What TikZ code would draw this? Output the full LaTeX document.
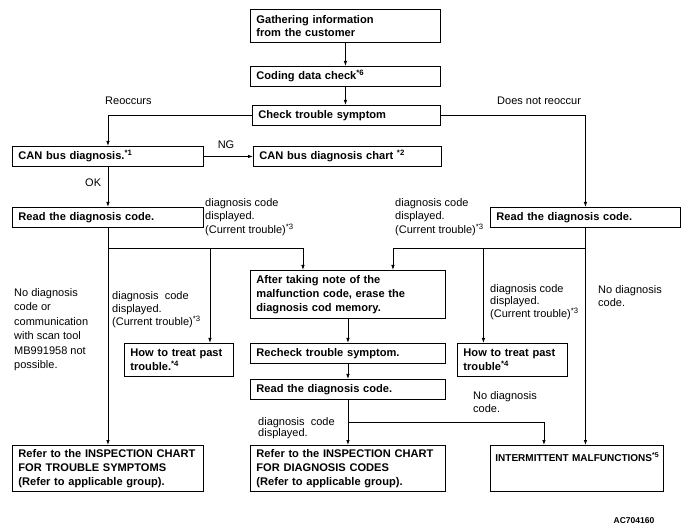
\documentclass[tikz,border=0pt]{standalone}
\usepackage{fontspec}
\setmainfont{Liberation Sans}
\usetikzlibrary{arrows.meta}

\begin{document}
\begin{tikzpicture}[
    x=1pt, y=-1pt,
    box/.style={rectangle, draw, line width=0.9pt, anchor=north west, align=left, inner xsep=6pt, inner ysep=3pt, minimum height=20pt, font=\fontsize{11.1}{13.8}\selectfont\bfseries},
    note/.style={anchor=north west, align=left, inner sep=0pt, font=\fontsize{11}{13.5}\selectfont},
    arrow/.style={-{Latex[length=5pt, width=3.5pt]}, line width=0.8pt},
]
\useasboundingbox (0,0) rectangle (688,526);

% Customer and symptom
\node[box, text width=178pt, minimum height=33pt] (gather) at (250,9) {Gathering information\\from the customer};
\node[box, text width=178pt] (coding) at (250,66) {Coding data check\textsuperscript{*6}};
\node[box, text width=176pt] (check) at (252,105) {Check trouble symptom};
\draw[arrow] (gather) -- (coding);
\draw[arrow] (coding.south) -- (coding.south |- check.north);

% CAN bus
\node[box, text width=179pt] (can) at (12,146) {CAN bus diagnosis.\textsuperscript{*1}};
\node[box, text width=176pt] (canchart) at (253,146) {CAN bus diagnosis chart \textsuperscript{*2}};
\draw[arrow] (check.west) -| (can.north);
\draw[arrow] (can) -- (canchart);
\node[note] at (105,97) {Reoccurs};
\node[note] at (497,97) {Does not reoccur};
\node[note, anchor=center] at (226,145) {NG};
\node[note] at (85,179) {OK};

% Read codes
\node[box, text width=179pt] (readL) at (12,207) {Read the diagnosis code.};
\node[box, text width=178pt] (readR) at (490,207) {Read the diagnosis code.};
\draw[arrow] (can) -- (readL);
\draw[arrow] (check.east) -| (readR.north);
\node[note] at (205,198) {diagnosis code\\displayed.\\(Current trouble)\textsuperscript{*3}};
\node[note] at (395,198) {diagnosis code\\displayed.\\(Current trouble)\textsuperscript{*3}};

% Middle row
\coordinate (rowA) at (0,248);
\coordinate (rowB) at (0,422);
\node[box, text width=183pt, minimum height=48pt] (after) at (250,270) {After taking note of the\\malfunction code, erase the\\diagnosis cod memory.};
\node[box, text width=183pt] (recheck) at (250,343) {Recheck trouble symptom.};
\node[box, text width=183pt] (readM) at (250,379) {Read the diagnosis code.};
\node[box, text width=97pt, minimum height=33pt] (howL) at (124,343) {How to treat past\\trouble.\textsuperscript{*4}};
\node[box, text width=98pt, minimum height=33pt] (howR) at (457,343) {How to treat past\\trouble\textsuperscript{*4}};
\coordinate (howLin) at ([xshift=31pt]howL.north);
\coordinate (howRin) at ([xshift=-29pt]howR.north);
\coordinate (afterL) at ([xshift=-45pt]after.north);
\coordinate (afterR) at ([xshift=45pt]after.north);
\draw[arrow] (readL.south |- rowA) -| (afterL);
\draw[arrow] (readR.south |- rowA) -| (afterR);
\draw[arrow] (howLin |- rowA) -- (howLin);
\draw[arrow] (howRin |- rowA) -- (howRin);
\draw[arrow] (after) -- (recheck);
\draw[arrow] (recheck) -- (readM);
\node[note, font=\fontsize{11}{14.5}\selectfont] at (14,288) {No diagnosis\\code or\\communication\\with scan tool\\MB991958 not\\possible.};
\node[note, font=\fontsize{11}{13}\selectfont] at (112,291) {diagnosis\ \ code\\displayed.\\(Current trouble)\textsuperscript{*3}};
\node[note, font=\fontsize{11}{12.5}\selectfont] at (490,284) {diagnosis code\\displayed.\\(Current trouble)\textsuperscript{*3}};
\node[note] at (598,285) {No diagnosis\\code.};

% Results
\node[box, text width=179pt, minimum height=46pt] (refL) at (12,445) {Refer to the INSPECTION CHART\\FOR TROUBLE SYMPTOMS\\(Refer to applicable group).};
\node[box, text width=183pt, minimum height=46pt] (refM) at (250,445) {Refer to the INSPECTION CHART\\FOR DIAGNOSIS CODES\\(Refer to applicable group).};
\node[box, text width=163pt, inner xsep=5pt, text height=13pt, text depth=27pt, font=\fontsize{10}{12}\selectfont\bfseries] (interm) at (490,445) {\mbox{INTERMITTENT MALFUNCTIONS\textsuperscript{*5}}};
\coordinate (intermin) at ([xshift=-33pt]interm.north);
\draw[arrow] (readL) -- (readL.south |- refL.north);
\draw[arrow] (readR) -- (readR.south |- interm.north);
\draw[arrow] (readM) -- (refM);
\draw[arrow] (readM.south |- rowB) -| (intermin);
\node[note] at (473,391) {No diagnosis\\code.};
\node[note, font=\fontsize{11}{11}\selectfont] at (258,417) {diagnosis\ \ code\\displayed.};
\node[note, anchor=center, font=\fontsize{8.5}{10}\selectfont\bfseries] (ref) at (634,521) {AC704160};
\end{tikzpicture}
\end{document}
